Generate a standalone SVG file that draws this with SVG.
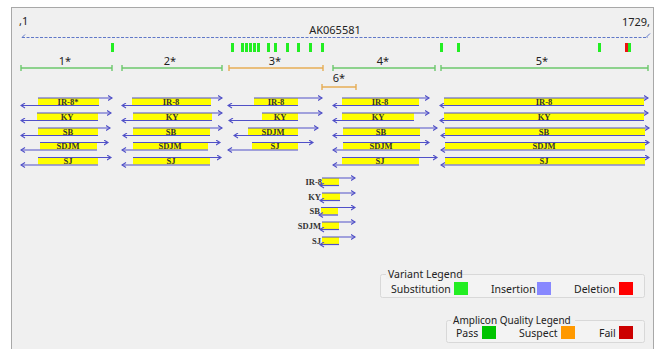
<svg xmlns="http://www.w3.org/2000/svg" width="658" height="349" viewBox="0 0 658 349">
<style>
.ui{font-family:"Noto Sans","Open Sans","Liberation Sans",sans-serif;fill:#222}
.lbl{font-family:"Liberation Serif","Times New Roman",serif;font-weight:bold;font-size:8.5px;fill:#333}
.y{fill:#ffff00}
.f{stroke:#5050c8;stroke-width:1.2;fill:none;marker-end:url(#ah)}
.ok{stroke:#6cc86c;stroke-width:1.4;fill:none}
.sus{stroke:#e6ad55;stroke-width:1.4;fill:none}
.sub{fill:#22ee22}
.lg{fill:#f3f3f3;stroke:#d8d8d8;stroke-width:1}
</style>
<defs>
<marker id="ah" markerUnits="userSpaceOnUse" markerWidth="6" markerHeight="6" refX="4.5" refY="3" orient="auto">
<path d="M0.5,0.5 L4.5,3 L0.5,5.5" fill="none" stroke="#5050c8" stroke-width="1.1"/>
</marker>
</defs>
<rect x="0" y="0" width="658" height="349" fill="#ffffff"/>
<rect x="11.5" y="7.5" width="642" height="350" fill="#f0f0f0" stroke="#a8a8a8"/>

<g id="header">
<text class="ui" x="19" y="25" font-size="11">,1</text>
<text class="ui" x="650" y="26" font-size="11" text-anchor="end">1729,</text>
<text class="ui" x="335" y="34" font-size="11" text-anchor="middle">AK065581</text>
<line x1="22" y1="37.5" x2="648" y2="37.5" stroke="#6078c8" stroke-width="1" stroke-dasharray="3,1.5"/>
<path d="M22,37.5 L25,34.5 M646,37.5 L650,33.5" stroke="#6078c8" stroke-width="1" fill="none"/>
</g>

<g id="variants">
<rect class="sub" x="111" y="43" width="3" height="9"/>
<rect class="sub" x="231" y="43" width="3" height="9"/>
<rect class="sub" x="241" y="43" width="3" height="9"/>
<rect class="sub" x="245" y="43" width="3" height="9"/>
<rect class="sub" x="249" y="43" width="3" height="9"/>
<rect class="sub" x="253" y="43" width="3" height="9"/>
<rect class="sub" x="257" y="43" width="3" height="9"/>
<rect class="sub" x="267" y="43" width="3" height="9"/>
<rect class="sub" x="274" y="43" width="3" height="9"/>
<rect class="sub" x="286" y="43" width="3" height="9"/>
<rect class="sub" x="297" y="43" width="3" height="9"/>
<rect class="sub" x="309" y="43" width="3" height="9"/>
<rect class="sub" x="321" y="43" width="3" height="9"/>
<rect class="sub" x="440" y="43" width="3" height="9"/>
<rect class="sub" x="457" y="43" width="3" height="9"/>
<rect class="sub" x="598" y="43" width="3" height="9"/>
<rect x="625" y="43" width="3" height="9" fill="#ee1111"/>
<rect class="sub" x="628" y="43" width="3" height="9"/>
</g>

<g id="amplicons">
<g id="amp1"><path class="ok" d="M21,68 H112 M21,65 V71 M112,65 V71"/><text class="ui" x="65" y="65" font-size="11" text-anchor="middle">1*</text></g>
<g id="amp2"><path class="ok" d="M122,68 H222 M122,65 V71 M222,65 V71"/><text class="ui" x="170" y="65" font-size="11" text-anchor="middle">2*</text></g>
<g id="amp3"><path class="sus" d="M229,68 H323 M229,65 V71 M323,65 V71"/><text class="ui" x="275" y="65" font-size="11" text-anchor="middle">3*</text></g>
<g id="amp4"><path class="ok" d="M333,68 H435 M333,65 V71 M435,65 V71"/><text class="ui" x="383" y="65" font-size="11" text-anchor="middle">4*</text></g>
<g id="amp5"><path class="ok" d="M441,68 H648 M441,65 V71 M648,65 V71"/><text class="ui" x="542" y="65" font-size="11" text-anchor="middle">5*</text></g>
<g id="amp6"><path class="sus" d="M322,87 H356 M322,84 V90 M356,84 V90"/><text class="ui" x="339" y="82" font-size="11" text-anchor="middle">6*</text></g>
</g>

<g id="reads1" text-anchor="middle">
<rect class="y" x="38" y="98" width="61" height="7"/><text class="lbl" x="68" y="104.5">IR-8*</text>
<rect class="y" x="37" y="113" width="61" height="7"/><text class="lbl" x="67" y="119.5">KY</text>
<rect class="y" x="38" y="128" width="60" height="7"/><text class="lbl" x="68" y="134.5">SB</text>
<rect class="y" x="40" y="142.5" width="57" height="7"/><text class="lbl" x="68" y="149">SDJM</text>
<rect class="y" x="38" y="157.5" width="60" height="7"/><text class="lbl" x="68" y="164">SJ</text>
</g>
<g id="reads2" text-anchor="middle">
<rect class="y" x="132" y="98" width="79" height="7"/><text class="lbl" x="171" y="104.5">IR-8</text>
<rect class="y" x="133" y="113" width="79" height="7"/><text class="lbl" x="172" y="119.5">KY</text>
<rect class="y" x="133" y="128" width="77" height="7"/><text class="lbl" x="171" y="134.5">SB</text>
<rect class="y" x="133" y="142.5" width="75" height="7"/><text class="lbl" x="170" y="149">SDJM</text>
<rect class="y" x="133" y="157.5" width="77" height="7"/><text class="lbl" x="171" y="164">SJ</text>
</g>
<g id="reads3" text-anchor="middle">
<rect class="y" x="254" y="98" width="44" height="7"/><text class="lbl" x="276" y="104.5">IR-8</text>
<rect class="y" x="262" y="113" width="36" height="7"/><text class="lbl" x="280" y="119.5">KY</text>
<rect class="y" x="248" y="128" width="50" height="7"/><text class="lbl" x="273" y="134.5">SDJM</text>
<rect class="y" x="252" y="142.5" width="46" height="7"/><text class="lbl" x="275" y="149">SJ</text>
</g>
<g id="reads4" text-anchor="middle">
<rect class="y" x="342" y="98" width="77" height="7"/><text class="lbl" x="380" y="104.5">IR-8</text>
<rect class="y" x="342" y="113" width="72" height="7"/><text class="lbl" x="378" y="119.5">KY</text>
<rect class="y" x="343" y="128" width="77" height="7"/><text class="lbl" x="381" y="134.5">SB</text>
<rect class="y" x="343" y="142.5" width="77" height="7"/><text class="lbl" x="381" y="149">SDJM</text>
<rect class="y" x="342" y="157.5" width="77" height="7"/><text class="lbl" x="380" y="164">SJ</text>
</g>
<g id="reads5" text-anchor="middle">
<rect class="y" x="444" y="98" width="200" height="7"/><text class="lbl" x="544" y="104.5">IR-8</text>
<rect class="y" x="444" y="113" width="200" height="7"/><text class="lbl" x="544" y="119.5">KY</text>
<rect class="y" x="445" y="128" width="200" height="7"/><text class="lbl" x="544" y="134.5">SB</text>
<rect class="y" x="445" y="142.5" width="200" height="7"/><text class="lbl" x="544" y="149">SDJM</text>
<rect class="y" x="445" y="157.5" width="200" height="7"/><text class="lbl" x="544" y="164">SJ</text>
</g>
<g id="reads6" text-anchor="end">
<rect class="y" x="322" y="178" width="17" height="7"/><text class="lbl" x="322" y="184.5">IR-8</text>
<rect class="y" x="322" y="193" width="18" height="7"/><text class="lbl" x="321" y="199.5">KY</text>
<rect class="y" x="321" y="207.5" width="17" height="7"/><text class="lbl" x="320" y="214">SB</text>
<rect class="y" x="322" y="222" width="17" height="7"/><text class="lbl" x="321" y="228.5">SDJM</text>
<rect class="y" x="322" y="237" width="17" height="7"/><text class="lbl" x="321" y="243.5">SJ</text>
</g>

<g id="connectors">
<line class="f" x1="38" y1="98" x2="112" y2="98"/><line class="f" x1="99" y1="105.5" x2="21" y2="105.5"/>
<line class="f" x1="37" y1="113" x2="111" y2="113"/><line class="f" x1="98" y1="120.5" x2="21" y2="120.5"/>
<line class="f" x1="38" y1="128" x2="110" y2="128"/><line class="f" x1="98" y1="135.5" x2="21" y2="135.5"/>
<line class="f" x1="40" y1="142.5" x2="108" y2="142.5"/><line class="f" x1="97" y1="150" x2="21" y2="150"/>
<line class="f" x1="38" y1="157.5" x2="111" y2="157.5"/><line class="f" x1="98" y1="165" x2="21" y2="165"/>
<line class="f" x1="132" y1="98" x2="222" y2="98"/><line class="f" x1="211" y1="105.5" x2="122" y2="105.5"/>
<line class="f" x1="133" y1="113" x2="222" y2="113"/><line class="f" x1="212" y1="120.5" x2="122" y2="120.5"/>
<line class="f" x1="133" y1="128" x2="222" y2="128"/><line class="f" x1="210" y1="135.5" x2="123" y2="135.5"/>
<line class="f" x1="133" y1="142.5" x2="220" y2="142.5"/><line class="f" x1="208" y1="150" x2="122" y2="150"/>
<line class="f" x1="133" y1="157.5" x2="221" y2="157.5"/><line class="f" x1="210" y1="165" x2="122" y2="165"/>
<line class="f" x1="254" y1="98" x2="322" y2="98"/><line class="f" x1="298" y1="105.5" x2="228" y2="105.5"/>
<line class="f" x1="262" y1="113" x2="322" y2="113"/><line class="f" x1="298" y1="120.5" x2="229" y2="120.5"/>
<line class="f" x1="248" y1="128" x2="318" y2="128"/><line class="f" x1="298" y1="135.5" x2="234" y2="135.5"/>
<line class="f" x1="252" y1="142.5" x2="313" y2="142.5"/><line class="f" x1="298" y1="150" x2="228" y2="150"/>
<line class="f" x1="342" y1="98" x2="429" y2="98"/><line class="f" x1="419" y1="105.5" x2="333" y2="105.5"/>
<line class="f" x1="342" y1="113" x2="429" y2="113"/><line class="f" x1="414" y1="120.5" x2="333" y2="120.5"/>
<line class="f" x1="343" y1="128" x2="437" y2="128"/><line class="f" x1="420" y1="135.5" x2="333" y2="135.5"/>
<line class="f" x1="343" y1="142.5" x2="429" y2="142.5"/><line class="f" x1="420" y1="150" x2="333" y2="150"/>
<line class="f" x1="342" y1="157.5" x2="437" y2="157.5"/><line class="f" x1="419" y1="165" x2="333" y2="165"/>
<line class="f" x1="444" y1="98" x2="648" y2="98"/><line class="f" x1="644" y1="105.5" x2="440" y2="105.5"/>
<line class="f" x1="444" y1="113" x2="648" y2="113"/><line class="f" x1="644" y1="120.5" x2="440" y2="120.5"/>
<line class="f" x1="445" y1="128" x2="649" y2="128"/><line class="f" x1="645" y1="135.5" x2="441" y2="135.5"/>
<line class="f" x1="445" y1="142.5" x2="649" y2="142.5"/><line class="f" x1="645" y1="150" x2="441" y2="150"/>
<line class="f" x1="445" y1="157.5" x2="649" y2="157.5"/><line class="f" x1="645" y1="165" x2="441" y2="165"/>
<line class="f" x1="322" y1="178" x2="355" y2="178"/><line class="f" x1="339" y1="185.5" x2="320" y2="185.5"/>
<line class="f" x1="322" y1="193" x2="355" y2="193"/><line class="f" x1="340" y1="200.5" x2="320" y2="200.5"/>
<line class="f" x1="321" y1="207.5" x2="355" y2="207.5"/><line class="f" x1="338" y1="215" x2="319" y2="215"/>
<line class="f" x1="322" y1="222" x2="355" y2="222"/><line class="f" x1="339" y1="229.5" x2="320" y2="229.5"/>
<line class="f" x1="322" y1="237" x2="355" y2="237"/><line class="f" x1="339" y1="244.5" x2="320" y2="244.5"/>
</g>

<g id="variant-legend">
<rect class="lg" x="380.5" y="274.5" width="264" height="23" rx="2"/>
<rect x="386" y="269" width="72" height="10" fill="#f0f0f0"/>
<text class="ui" x="388" y="278" font-size="10.5">Variant Legend</text>
<text class="ui" x="391" y="292.5" font-size="10.5">Substitution</text>
<rect x="454" y="282" width="14" height="13" fill="#22ee22"/>
<text class="ui" x="491" y="292.5" font-size="10.5">Insertion</text>
<rect x="537" y="282" width="14" height="13" fill="#8888ff"/>
<text class="ui" x="574" y="292.5" font-size="10.5">Deletion</text>
<rect x="619" y="282" width="14" height="13" fill="#ff0000"/>
</g>

<g id="quality-legend">
<rect class="lg" x="446.5" y="320.5" width="198" height="22" rx="2"/>
<rect x="451" y="315" width="124" height="10" fill="#f0f0f0"/>
<text class="ui" x="453" y="323.5" font-size="10">Amplicon Quality Legend</text>
<text class="ui" x="456" y="337" font-size="10.5">Pass</text>
<rect x="482" y="326" width="14" height="13" fill="#00c400"/>
<text class="ui" x="519" y="337" font-size="10.5">Suspect</text>
<rect x="561" y="326" width="14" height="13" fill="#ff9900"/>
<text class="ui" x="599" y="337" font-size="10.5">Fail</text>
<rect x="619" y="326" width="14" height="13" fill="#cc0000"/>
</g>
</svg>
